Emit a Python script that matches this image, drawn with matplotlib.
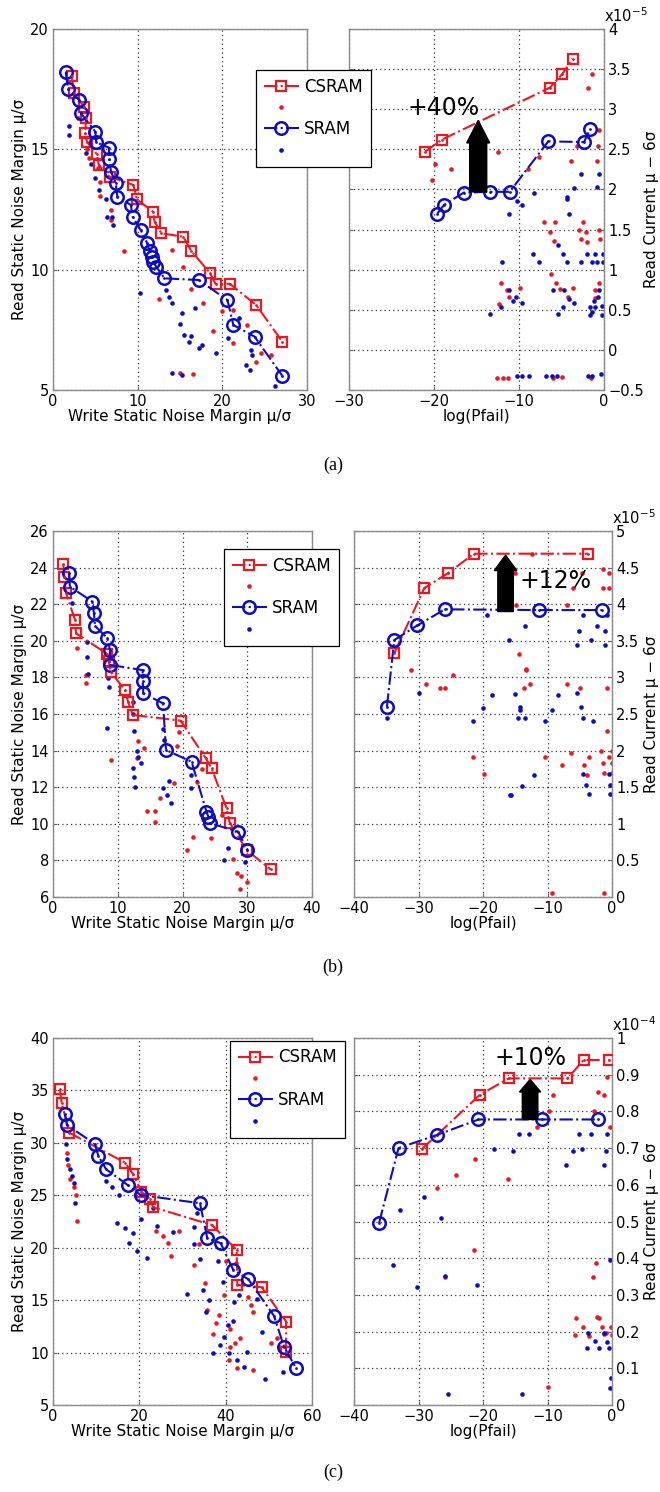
import matplotlib
matplotlib.use('Agg')
import matplotlib.pyplot as plt
from matplotlib.patches import FancyArrow
from matplotlib.ticker import MultipleLocator, FuncFormatter

RED = '#ea1820'
BLUE = '#0c0cc8'

# ---------------- (a) ----------------
# read SNM vs write SNM (mu/sigma)
a_snm_cs = [(2.2, 18.05), (2.5, 17.33), (3.7, 16.75), (3.9, 16.29), (3.8, 15.67), (4.0, 15.32),
            (5.2, 14.79), (5.4, 14.35), (6.7, 13.86), (9.5, 13.52), (9.9, 12.92), (11.8, 12.41),
            (12.0, 12.0), (12.8, 11.51), (15.4, 11.37), (16.3, 10.79), (18.5, 9.88), (19.2, 9.41),
            (20.9, 9.41), (24.0, 8.53), (27.1, 7.0)]
a_snm_sr = [(1.5, 18.2), (1.8, 17.5), (3.1, 17.05), (3.3, 16.5), (5.0, 15.73), (5.1, 15.29),
            (6.6, 15.07), (6.65, 14.6), (6.85, 14.07), (7.4, 13.61), (7.6, 13.03), (9.2, 12.69),
            (9.4, 12.2), (10.35, 11.65), (11.1, 11.12), (11.4, 10.78), (11.65, 10.54), (11.85, 10.33),
            (12.2, 10.12), (13.15, 9.64), (17.2, 9.57), (20.6, 8.74), (21.3, 7.7), (23.8, 7.22),
            (27.1, 5.58)]
a_snm_cs_dots = [(4.3, 14.63), (5.3, 14.21), (5.5, 13.66), (5.55, 13.06), (6.9, 12.48), (6.9, 12.07),
                 (8.4, 10.79), (12.55, 8.77), (14.0, 10.82), (15.3, 10.1), (16.3, 9.19), (17.7, 8.6),
                 (18.85, 7.47), (20.0, 8.3), (21.3, 8.33), (21.3, 6.94), (22.9, 7.7), (24.0, 6.18),
                 (24.6, 6.53), (25.8, 6.46), (16.5, 5.67), (15.0, 5.7), (4.0, 15.0), (3.0, 16.3)]
a_snm_sr_dots = [(1.93, 15.97), (1.93, 15.6), (3.9, 14.86), (5.43, 13.31), (6.26, 12.92), (6.4, 12.2),
                 (7.0, 12.2), (7.05, 11.86), (10.27, 9.02), (13.4, 9.16), (13.7, 8.88), (14.1, 8.6),
                 (15.2, 8.21), (15.0, 7.74), (15.45, 7.29), (16.1, 7.01), (16.25, 7.25), (17.3, 6.73),
                 (17.55, 6.87), (16.8, 8.39), (19.25, 6.53), (20.7, 7.15), (22.0, 7.98), (22.8, 6.04),
                 (23.3, 5.83), (23.35, 6.66), (23.5, 6.46), (26.2, 5.17), (14.0, 5.7), (15.2, 5.63),
                 (4.5, 14.4), (5.0, 13.8)]
# read current (x1e-5) vs log(Pfail)
a_cur_cs = [(-21.06, 2.47), (-19.1, 2.62), (-6.35, 3.27), (-4.9, 3.44), (-3.7, 3.63)]
a_cur_sr = [(-19.6, 1.70), (-18.8, 1.81), (-16.5, 1.96), (-13.4, 1.97), (-11.1, 1.97), (-6.55, 2.6),
            (-2.35, 2.59), (-1.65, 2.75)]
a_cur_cs_dots = [(-19.9, 2.32), (-18.0, 2.25), (-20.2, 2.12), (-15.7, 2.42), (-14.8, 2.32), (-12.5, 2.47),
                 (-8.9, 2.26), (-7.6, 2.41), (-3.2, 2.54), (-1.44, 3.44), (-1.9, 3.27), (-0.67, 2.54),
                 (-0.55, 2.74), (-3.9, 2.36), (-0.86, 2.36),
                 (-7.06, 1.6), (-5.76, 1.6), (-6.4, 1.47), (-5.9, 1.36), (-3.0, 1.5), (-2.5, 1.6),
                 (-2.1, 1.47), (-2.74, 1.38), (-2.04, 1.35), (-0.55, 1.5), (-0.47, 1.38), (-12.1, 0.84),
                 (-11.45, 0.75), (-11.14, 0.66), (-12.3, 0.57), (-9.9, 0.77), (-6.24, 0.95), (-5.6, 0.84),
                 (-5.2, 0.76), (-4.2, 0.66), (-3.6, 0.77), (-1.06, 0.75), (-0.55, 0.84), (-1.1, 0.65),
                 (-12.55, -0.35), (-11.9, -0.35), (-11.26, -0.35), (-6.05, -0.35), (-5.0, -0.34),
                 (-1.55, -0.35)]
a_cur_sr_dots = [(-8.2, 1.95), (-4.3, 1.9), (-2.74, 2.19), (-3.5, 2.02), (-0.86, 2.03), (-0.55, 2.19),
                 (-10.2, 1.85), (-9.7, 1.81), (-11.14, 1.70), (-4.3, 1.88), (-4.07, 1.70), (-8.4, 1.20),
                 (-7.7, 1.10), (-12.04, 1.10), (-5.4, 1.31), (-4.8, 1.20), (-4.3, 1.10), (-2.74, 1.10),
                 (-2.04, 1.20), (-1.44, 1.10), (-1.06, 1.20), (-0.86, 1.10), (-0.15, 1.20), (-0.15, 1.10),
                 (-13.4, 0.45), (-12.1, 0.53), (-11.14, 0.75), (-10.75, 0.61), (-10.3, 0.66), (-9.6, 0.59),
                 (-6.05, 0.75), (-5.45, 0.45), (-4.86, 0.53), (-4.67, 0.75), (-4.1, 0.63), (-3.5, 0.59),
                 (-1.7, 0.53), (-1.7, 0.43), (-1.44, 0.47), (-1.2, 0.61), (-1.06, 0.53), (-0.67, 0.66),
                 (-0.55, 0.75), (-0.27, 0.55), (-0.27, 0.43),
                 (-10.2, -0.32), (-9.6, -0.32), (-8.8, -0.32), (-6.8, -0.32), (-6.15, -0.32),
                 (-5.5, -0.32), (-1.9, -0.32), (-1.44, -0.32), (-0.35, -0.3)]

# ---------------- (b) ----------------
b_snm_cs = [(1.6, 24.18), (1.75, 23.5), (2.0, 22.63), (3.4, 21.14), (3.55, 20.41), (8.3, 19.3),
            (8.6, 18.9), (8.9, 18.31), (11.1, 17.31), (11.6, 16.67), (12.3, 15.95), (19.7, 15.64),
            (23.6, 13.58), (24.5, 13.03), (26.8, 10.85), (27.3, 10.06), (29.9, 8.57), (33.6, 7.51)]
b_snm_sr = [(2.5, 23.69), (2.6, 22.96), (6.1, 22.14), (6.3, 21.54), (6.5, 20.81), (8.4, 20.14),
            (8.8, 19.5), (8.8, 18.68), (13.85, 18.4), (13.85, 17.82), (13.95, 17.13), (17.0, 16.58),
            (17.45, 14.03), (21.4, 13.39), (23.7, 10.66), (24.0, 10.38), (24.25, 10.03), (28.6, 9.57),
            (30.0, 8.57)]
b_snm_cs_dots = [(5.1, 18.13), (5.1, 17.71), (8.9, 13.49), (13.2, 14.54), (14.05, 14.13), (12.9, 13.58),
                 (14.5, 10.72), (15.75, 10.72), (15.75, 10.12), (16.5, 11.39), (18.7, 12.25), (19.1, 14.25),
                 (19.5, 15.03), (21.6, 9.3), (20.75, 8.57), (23.0, 12.98), (22.3, 12.3), (24.35, 9.2),
                 (26.05, 10.48), (27.85, 8.06), (28.4, 7.33), (29.0, 7.15), (29.9, 6.84), (28.9, 6.42),
                 (3.65, 19.59)]
b_snm_sr_dots = [(5.45, 18.19), (8.55, 17.95), (8.7, 17.49), (8.4, 15.22), (12.3, 16.67), (12.4, 16.0),
                 (12.5, 15.09), (13.0, 13.99), (13.2, 13.63), (13.6, 13.3), (12.4, 13.03), (12.5, 12.54),
                 (12.65, 11.99), (17.0, 15.16), (17.15, 14.58), (17.0, 11.94), (17.55, 11.57),
                 (17.95, 12.36), (18.3, 11.16), (21.25, 12.66), (21.25, 11.93), (26.4, 8.0), (27.1, 8.68),
                 (29.65, 7.93), (2.9, 22.05), (5.2, 19.95), (5.3, 19.13)]
b_cur_cs = [(-33.75, 3.33), (-29.1, 4.22), (-25.5, 4.42), (-21.4, 4.69), (-3.7, 4.69)]
b_cur_sr = [(-34.9, 2.6), (-33.75, 3.51), (-30.2, 3.71), (-25.9, 3.93), (-11.3, 3.92), (-1.6, 3.92)]
b_cur_cs_dots = [(-17.3, 4.22), (-15.0, 4.43), (-14.9, 3.99), (-6.9, 3.99), (-6.1, 4.22), (-4.7, 4.43),
                 (-1.35, 4.48), (-0.4, 4.43), (-1.35, 4.22), (-0.4, 4.22), (-14.4, 3.32), (-13.3, 3.11),
                 (-12.4, 4.69), (-31.2, 3.10), (-28.9, 2.91), (-26.6, 2.85), (-25.9, 2.85), (-24.6, 3.03),
                 (-21.5, 1.91), (-19.8, 1.68), (-13.4, 3.10), (-13.6, 2.85), (-12.7, 2.91), (-10.4, 1.91),
                 (-6.9, 2.91), (-5.0, 2.85), (-6.4, 1.97), (-7.8, 1.80), (-4.3, 1.80), (-3.8, 1.67),
                 (-3.5, 1.91), (-1.75, 2.0), (-1.45, 1.83), (-1.25, 1.69), (-0.7, 2.27), (-0.7, 2.85),
                 (-0.4, 1.91), (-0.05, 2.0), (-0.05, 1.83), (-0.05, 1.69), (-9.3, 0.06), (-1.3, 0.05)]
b_cur_sr_dots = [(-19.4, 3.85), (-13.5, 3.70), (-15.9, 3.51), (-5.05, 3.64), (-5.45, 3.44), (-4.55, 3.85),
                 (-3.3, 3.51), (-2.4, 3.70), (-1.1, 3.64), (-1.1, 3.44), (-0.7, 3.85), (-34.9, 2.44),
                 (-30.0, 2.79), (-21.5, 2.41), (-20.05, 2.58), (-18.65, 2.76), (-15.0, 2.78), (-14.3, 2.60),
                 (-14.2, 2.55), (-14.5, 2.44), (-13.5, 2.44), (-10.4, 2.41), (-9.35, 2.56), (-8.3, 2.76),
                 (-5.4, 2.79), (-4.85, 2.60), (-4.45, 2.44), (-2.9, 2.41), (-15.8, 1.39), (-15.6, 1.40),
                 (-14.0, 1.52), (-12.05, 1.67), (-4.45, 1.68), (-4.0, 1.53), (-3.6, 1.41), (-0.4, 1.68),
                 (-0.3, 1.53), (-0.3, 1.41)]

# ---------------- (c) ----------------
c_snm_cs = [(1.6, 35.1), (2.0, 33.83), (3.8, 30.97), (16.7, 28.11), (18.5, 27.04), (20.5, 25.35),
            (22.5, 24.62), (23.2, 23.86), (36.8, 22.17), (42.55, 19.79), (42.7, 16.45), (48.35, 16.23),
            (54.0, 12.96), (54.0, 10.1)]
c_snm_sr = [(2.8, 32.73), (3.2, 31.71), (9.7, 29.9), (10.5, 28.75), (12.3, 27.48), (17.3, 25.98),
            (20.3, 25.03), (34.05, 24.24), (35.75, 20.9), (38.85, 20.43), (41.77, 17.88), (45.25, 16.99),
            (51.2, 13.5), (53.5, 10.57), (56.3, 8.5)]
c_snm_cs_dots = [(3.2, 29.0), (3.55, 27.9), (3.9, 26.53), (4.9, 25.82), (5.3, 25.03), (5.5, 22.58),
                 (23.9, 21.63), (25.4, 21.12), (26.7, 20.49), (27.3, 19.22), (29.3, 21.63), (32.7, 18.36),
                 (33.9, 20.36), (35.2, 16.67), (35.6, 14.07), (37.0, 11.78), (38.5, 13.59), (37.8, 12.8),
                 (39.6, 15.5), (40.1, 18.77), (41.0, 12.23), (41.0, 10.57), (40.8, 9.3), (42.2, 10.95),
                 (43.3, 11.37), (42.7, 8.5), (45.2, 15.34), (45.8, 14.55), (46.4, 13.91), (46.25, 8.35),
                 (50.4, 10.89), (51.8, 11.37), (52.4, 10.57), (42.5, 18.52)]
c_snm_sr_dots = [(3.0, 29.87), (3.2, 28.44), (3.9, 27.49), (4.3, 26.85), (4.85, 26.2), (5.1, 24.3),
                 (12.3, 26.4), (13.6, 25.77), (15.4, 25.03), (14.9, 22.39), (16.7, 21.86), (18.6, 21.38),
                 (17.7, 20.43), (19.5, 19.73), (20.5, 22.72), (21.7, 18.98), (23.1, 23.76), (24.2, 22.07),
                 (27.7, 21.53), (31.0, 15.6), (32.7, 21.95), (32.7, 20.36), (33.3, 23.35), (34.05, 18.9),
                 (34.8, 15.97), (35.4, 13.91), (36.2, 15.02), (37.1, 9.94), (38.3, 18.77), (38.7, 10.73),
                 (39.3, 16.77), (39.6, 11.47), (40.6, 12.64), (40.8, 9.94), (41.8, 13.05), (41.9, 14.86),
                 (42.7, 9.3), (43.2, 15.5), (44.9, 10.1), (44.2, 8.6), (47.2, 15.09), (48.35, 12.0),
                 (49.1, 7.46), (53.2, 8.18), (54.3, 9.78)]
# read current (x1e-4)
c_cur_cs = [(-29.5, 0.697), (-20.5, 0.845), (-16.0, 0.89), (-6.9, 0.89), (-4.4, 0.94), (-0.4, 0.94)]
c_cur_sr = [(-36.1, 0.497), (-33.1, 0.70), (-27.1, 0.736), (-20.7, 0.778), (-10.8, 0.778), (-2.1, 0.778)]
c_cur_cs_dots = [(-9.2, 0.845), (-9.7, 0.80), (-11.7, 0.758), (-0.7, 0.893), (-2.1, 0.854), (-1.25, 0.845),
                 (-2.8, 0.80), (-0.3, 0.758), (-21.2, 0.67), (-24.2, 0.627), (-27.1, 0.59), (-16.1, 0.615),
                 (-21.4, 0.422), (-25.9, 0.348), (-2.5, 0.386), (-2.9, 0.35), (-5.55, 0.236), (-5.7, 0.19),
                 (-4.45, 0.212), (-3.5, 0.188), (-2.4, 0.239), (-2.0, 0.236), (-1.6, 0.212), (-1.25, 0.193),
                 (-0.2, 0.212), (-0.05, 0.19), (-0.9, 0.197), (-10.0, 0.05)]
c_cur_sr_dots = [(-14.4, 0.738), (-12.8, 0.738), (-5.1, 0.738), (-3.2, 0.738), (-0.7, 0.738), (-18.3, 0.697),
                 (-15.4, 0.692), (-6.1, 0.692), (-4.6, 0.697), (-0.9, 0.692), (-29.2, 0.568), (-32.8, 0.53),
                 (-26.5, 0.51), (-33.9, 0.382), (-30.2, 0.322), (-25.9, 0.351), (-21.0, 0.327),
                 (-7.1, 0.654), (-1.2, 0.654), (-0.3, 0.395), (-3.75, 0.197), (-2.65, 0.175), (-3.8, 0.155),
                 (-1.95, 0.155), (-1.25, 0.197), (-0.85, 0.173), (-0.45, 0.155), (-0.15, 0.073),
                 (-25.5, 0.03), (-14.0, 0.03), (-0.3, 0.045)]

# improvement arrows: x, base, top and the label
a_gain = (-14.8, 1.97, 2.86, '+40%', -18.9, 3.01)
b_gain = (-16.5, 3.90, 4.67, '+12%', -8.8, 4.32)
c_gain = (-12.7, 0.778, 0.887, '+10%', -12.6, 0.945)

plt.rcParams['font.family'] = ['DejaVu Sans']
plt.rcParams['mathtext.default'] = 'regular'

fig = plt.figure(figsize=(6.6, 14.92), dpi=100)
W, H = 660.0, 1492.0


def rect(x0, y0, x1, y1):
    return [x0 / W, 1 - y1 / H, (x1 - x0) / W, (y1 - y0) / H]


def fmt(v, pos):
    return ('%g' % round(v, 6)).replace('-', '\u2212')


def style(ax, xlim, ylim, xstep, ystep):
    ax.set_xlim(*xlim)
    ax.set_ylim(*ylim)
    ax.xaxis.set_major_locator(MultipleLocator(xstep))
    ax.yaxis.set_major_locator(MultipleLocator(ystep))
    ax.xaxis.set_major_formatter(FuncFormatter(fmt))
    ax.yaxis.set_major_formatter(FuncFormatter(fmt))
    ax.grid(True, ls=(0, (1, 2.5)), color='#333333', lw=0.9)
    for s in ax.spines.values():
        s.set_color('#8a8a8a')
        s.set_linewidth(1.0)
    ax.tick_params(direction='in', length=3, width=0.8, color='#666666', labelsize=10.5, pad=3)


def series(ax, cs, sr, cs_dots, sr_dots):
    for pts, c in ((cs_dots, RED), (sr_dots, BLUE)):
        ax.plot(*zip(*pts), ls='none', marker='o', ms=3.3, color=c, mec='none', zorder=2)
    hc = ax.plot(*zip(*cs), ls='-.', lw=1.5, color=RED, marker='s', ms=7.5, mfc='none', mew=1.6, zorder=3)[0]
    hs = ax.plot(*zip(*sr), ls='-.', lw=1.5, color=BLUE, marker='o', ms=9, mfc='none', mew=1.8, zorder=3)[0]
    for pts, c in ((cs, RED), (sr, BLUE)):
        ax.plot(*zip(*pts), ls='none', marker='o', ms=2.0, color=c, mec='none', zorder=4)
    return hc, hs


panels = [
    dict(tag='(a)', top=29, bot=390, lx=(53, 307), rx=(349, 604),
         snm=(a_snm_cs, a_snm_sr, a_snm_cs_dots, a_snm_sr_dots), snm_lim=((0, 30), (5, 20)), snm_step=(10, 5),
         cur=(a_cur_cs, a_cur_sr, a_cur_cs_dots, a_cur_sr_dots), cur_lim=((-30, 0), (-0.5, 4)),
         cur_step=(10, 0.5), exp='-5', gain=a_gain, arrow=(2.0, 2.7, 0.28), leg=(256, 70), cap=465),
    dict(tag='(b)', top=531, bot=897, lx=(53, 312), rx=(354, 612),
         snm=(b_snm_cs, b_snm_sr, b_snm_cs_dots, b_snm_sr_dots), snm_lim=((0, 40), (6, 26)), snm_step=(10, 2),
         cur=(b_cur_cs, b_cur_sr, b_cur_cs_dots, b_cur_sr_dots), cur_lim=((-40, 0), (0, 5)),
         cur_step=(10, 0.5), exp='-5', gain=b_gain, arrow=(2.4, 3.5, 0.21), leg=(224, 549), cap=967),
    dict(tag='(c)', top=1038, bot=1405, lx=(53, 312), rx=(354, 612),
         snm=(c_snm_cs, c_snm_sr, c_snm_cs_dots, c_snm_sr_dots), snm_lim=((0, 60), (5, 40)), snm_step=(20, 5),
         cur=(c_cur_cs, c_cur_sr, c_cur_cs_dots, c_cur_sr_dots), cur_lim=((-40, 0), (0, 1)),
         cur_step=(10, 0.1), exp='-4', gain=c_gain, arrow=(2.4, 3.3, 0.034), leg=(230, 1041), cap=1472),
]

for p in panels:
    ax1 = fig.add_axes(rect(p['lx'][0], p['top'], p['lx'][1], p['bot']))
    ax2 = fig.add_axes(rect(p['rx'][0], p['top'], p['rx'][1], p['bot']))

    hc, hs = series(ax1, *p['snm'])
    style(ax1, *p['snm_lim'], *p['snm_step'])
    ax1.set_xlabel('Write Static Noise Margin \u03bc/\u03c3', fontsize=11, labelpad=0)
    ax1.set_ylabel('Read Static Noise Margin \u03bc/\u03c3', fontsize=11, labelpad=2)

    series(ax2, *p['cur'])
    style(ax2, *p['cur_lim'], *p['cur_step'])
    ax2.yaxis.tick_right()
    ax2.yaxis.set_label_position('right')
    ax2.tick_params(axis='y', left=True, right=True, labelleft=False, labelright=True)
    ax2.set_xlabel('log(Pfail)', fontsize=11, labelpad=0)
    ax2.set_ylabel('Read Current \u03bc \u2212 6\u03c3', fontsize=11)
    # right-hand label sits just inside the figure edge
    ax2.yaxis.set_label_coords((644 - p['rx'][0]) / (p['rx'][1] - p['rx'][0]), 0.5)
    ax2.text(1.0, 1.012, 'x$10^{%s}$' % p['exp'], transform=ax2.transAxes, ha='left', va='bottom',
             fontsize=10.5)

    gx, gb, gt, gtxt, tx, ty = p['gain']
    bw, hw, hl = p['arrow']
    ax2.add_patch(FancyArrow(gx, gb, 0, gt - gb, width=bw, head_width=hw, head_length=hl,
                             length_includes_head=True, color='black', zorder=5))
    ax2.text(tx, ty, gtxt, ha='center', va='center', fontsize=17, zorder=6)

    dot_c = plt.Line2D([], [], ls='none', marker='o', ms=3.3, color=RED, mec='none')
    dot_s = plt.Line2D([], [], ls='none', marker='o', ms=3.3, color=BLUE, mec='none')
    lx, ly = p['leg']
    leg = fig.legend([hc, dot_c, hs, dot_s], ['CSRAM', '', 'SRAM', ''], loc='upper left',
                     bbox_to_anchor=(lx / W, 1 - ly / H), bbox_transform=fig.transFigure,
                     fontsize=12, fancybox=False, framealpha=1, edgecolor='black',
                     handlelength=2.1, handletextpad=0.35, labelspacing=0.2, borderpad=0.45,
                     borderaxespad=0)
    leg.get_frame().set_linewidth(0.9)

    fig.text(333 / W, 1 - p['cap'] / H, p['tag'], ha='center', va='center', fontsize=13,
             family='Liberation Serif')

fig.savefig('out.png', dpi=100)
